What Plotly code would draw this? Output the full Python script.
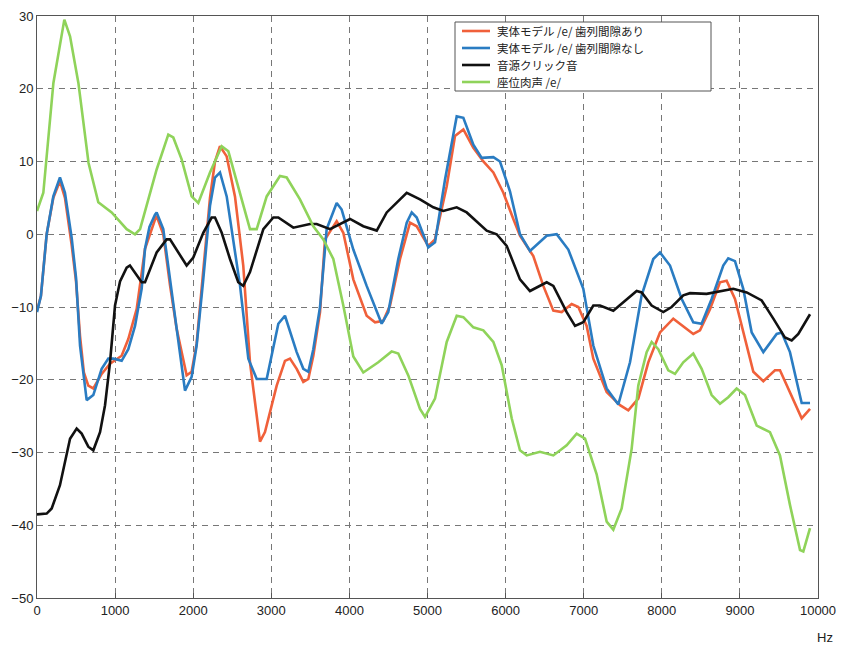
import plotly.graph_objects as go

# ---------------- data ----------------
red_f = [0, 50, 124, 209, 294, 358, 444, 500, 551, 600, 657, 721, 828, 935, 1084, 1169, 1276, 1340, 1383,
         1511, 1532, 1617, 1703, 1788, 1916, 1980, 2044, 2129, 2215, 2279, 2343, 2429, 2535, 2641, 2727,
         2855, 2919, 3069, 3175, 3239, 3325, 3410, 3474, 3538, 3624, 3688, 3837, 3922, 4050, 4221, 4328,
         4434, 4520, 4648, 4776, 4862, 5010, 5096, 5246, 5352, 5459, 5587, 5715, 5843, 5971, 6099, 6184,
         6355, 6483, 6611, 6718, 6846, 6931, 7038, 7123, 7294, 7465, 7571, 7699, 7827, 7977, 8147, 8233,
         8403, 8489, 8617, 8745, 8830, 8937, 9043, 9172, 9300, 9449, 9513, 9641, 9791, 9898]
red_v = [-10.5, -8.5, 0, 5, 7.3, 5, -1.5, -6.5, -14, -19, -20.8, -21.2, -19.2, -17.8, -16.7, -14.4, -10.3, -5, -2,
         2, 2.5, 0, -7, -13, -19.4, -18.9, -15, -5, 5, 10, 12.1, 10.7, 5.2, -4.3, -17.6,
         -28.5, -27.2, -20.8, -17.4, -17.1, -18.5, -20.3, -19.9, -16.7, -10.7, -0.7, 1.8, 0.2, -6.2, -11.2, -12.1,
         -11.9, -9.8, -3.4, 1.6, 1.1, -1.6, -0.7, 6.6, 13.5, 14.4, 11.9, 10, 8.5, 5.7, 2.1, -0.2,
         -3, -7.1, -10.5, -10.7, -9.6, -10, -12.6, -17.1, -21.7, -23.5, -24.2, -22.6, -17.6, -13.5, -11.6, -12.3,
         -13.7, -13.2, -10.3, -6.6, -6.4, -8.9, -13.5, -18.9, -20.2, -18.7, -18.7, -21.7, -25.3, -24]

blue_f = [0, 50, 124, 209, 294, 358, 444, 500, 551, 636, 721, 828, 913, 977, 1084, 1169, 1255, 1340, 1383,
          1440, 1511, 1532, 1617, 1703, 1745, 1788, 1895, 1980, 2044, 2129, 2215, 2279, 2343, 2429, 2535,
          2599, 2706, 2813, 2941, 3090, 3175, 3325, 3410, 3474, 3538, 3624, 3709, 3837, 3901, 4050, 4221,
          4413, 4498, 4626, 4734, 4798, 4862, 5010, 5096, 5224, 5374, 5459, 5587, 5694, 5843, 5928, 6056,
          6184, 6312, 6526, 6654, 6803, 6995, 7123, 7294, 7443, 7593, 7742, 7891, 7977, 8105, 8255, 8403,
          8510, 8638, 8787, 8851, 8937, 9043, 9151, 9300, 9471, 9535, 9641, 9791, 9898]
blue_v = [-10.7, -8.5, 0, 5.2, 7.8, 5.7, -0.5, -6, -15.3, -22.8, -22.1, -18.5, -17.1, -17.1, -17.4, -15.8, -12.6, -7.5, -2,
          1, 2.7, 3, 0.7, -6.2, -9, -13, -21.5, -19.6, -15.3, -6.2, 3.9, 7.8, 8.5, 5.2, -2,
          -7, -17.1, -19.9, -19.9, -12.3, -11.2, -16.2, -18.5, -18.9, -15.8, -10, 0.7, 4.3, 3.4, -2.1, -7.1,
          -12.3, -10.7, -3.4, 1.6, 3, 2.3, -1.8, -1.1, 7.5, 16.2, 16, 12.3, 10.5, 10.6, 10, 5.9,
          0, -2.3, -0.2, 0, -2.1, -7.5, -15.3, -21.2, -23.4, -17.6, -8.4, -3.4, -2.5, -4.3, -8.9, -12.1,
          -12.3, -8.9, -4.3, -3.3, -3.7, -7.5, -13.5, -16.2, -13.7, -13.5, -16.2, -23.2, -23.2]

black_f = [0, 124, 188, 294, 423, 508, 572, 657, 721, 807, 871, 935, 999, 1063, 1148, 1190, 1340, 1383, 1532,
           1660, 1703, 1809, 1916, 2001, 2129, 2236, 2279, 2365, 2471, 2577, 2641, 2727, 2898, 3026, 3090,
           3282, 3495, 3581, 3752, 4008, 4178, 4350, 4478, 4734, 4904, 5074, 5202, 5374, 5502, 5758, 5886,
           6014, 6184, 6312, 6526, 6611, 6782, 6889, 6995, 7123, 7209, 7379, 7550, 7678, 7742, 7870, 8019,
           8126, 8275, 8361, 8574, 8745, 8915, 9087, 9279, 9428, 9577, 9663, 9748, 9898]
black_v = [-38.5, -38.4, -37.7, -34.5, -28.1, -26.7, -27.4, -29.2, -29.7, -27.2, -23.5, -17.6, -9.8, -6.5, -4.6, -4.3, -6.6, -6.6, -2.5,
           -0.7, -0.7, -2.5, -4.3, -3.2, 0.2, 2.3, 2.3, 0.2, -3.4, -6.6, -7.1, -5.2, 0.7, 2.3, 2.3,
           0.9, 1.4, 1.4, 0.7, 2.1, 1.1, 0.5, 3, 5.7, 4.8, 3.7, 3.2, 3.7, 3, 0.5, 0,
           -1.6, -6.2, -7.8, -6.6, -7.1, -10.7, -12.6, -12.1, -9.8, -9.8, -10.5, -8.9, -7.8, -8, -9.8, -10.7,
           -10, -8.4, -8.1, -8.2, -7.8, -7.5, -8, -9.1, -11.6, -14.2, -14.6, -13.7, -11]

green_f = [0, 81, 210, 350, 423, 530, 660, 785, 956, 1148, 1255, 1320, 1532, 1681, 1745, 1852, 1980, 2065,
           2215, 2365, 2450, 2577, 2727, 2813, 2941, 3111, 3197, 3367, 3538, 3666, 3794, 3922, 4050, 4178,
           4370, 4541, 4626, 4754, 4904, 4968, 5096, 5246, 5374, 5459, 5587, 5715, 5843, 5950, 6078, 6184,
           6270, 6440, 6611, 6782, 6910, 7017, 7166, 7294, 7379, 7486, 7614, 7699, 7806, 7870, 7955, 8083,
           8169, 8275, 8403, 8510, 8638, 8745, 8851, 8958, 9065, 9215, 9385, 9513, 9641, 9770, 9812, 9898]
green_v = [3.2, 5.7, 20.8, 29.5, 27.2, 20.8, 9.8, 4.4, 3, 0.7, 0, 0.7, 8.9, 13.7, 13.3, 10.3, 5.2, 4.3,
           8.5, 12.1, 11.4, 6.6, 0.7, 0.7, 5.2, 8, 7.8, 4.8, 1.1, -0.7, -3.4, -9.8, -16.8, -19,
           -17.6, -16.1, -16.4, -19.4, -24, -25.1, -22.6, -14.8, -11.2, -11.4, -12.8, -13.2, -14.8, -18, -25.3, -29.7,
           -30.4, -29.9, -30.4, -29, -27.4, -28.1, -33, -39.5, -40.6, -37.7, -29.5, -20.8, -16.2, -14.8, -15.8, -18.7,
           -19.2, -17.6, -16.4, -18.5, -22.1, -23.3, -22.4, -21.2, -22.1, -26.3, -27.2, -30.4, -37.2, -43.4, -43.6, -40.4]

series_names = ["実体モデル /e/ 歯列間隙あり", "実体モデル /e/ 歯列間隙なし", "音源クリック音", "座位肉声 /e/"]
series_colors = ["#f0603a", "#2a7cc2", "#111111", "#8fd35a"]

x_ticks = [0, 1000, 2000, 3000, 4000, 5000, 6000, 7000, 8000, 9000, 10000]
x_tick_text = ["0", "1000", "2000", "3000", "4000", "5000", "6000", "7000", "8000", "9000", "10000"]
y_ticks = [-50, -40, -30, -20, -10, 0, 10, 20, 30]
y_tick_text = ["−50", "−40", "−30", "−20", "−10", "0", "10", "20", "30"]

# ---------------- layout geometry ----------------
W, H = 841, 646
ML, MR, MT, MB = 37, 23, 16, 48
PW, PH = W - ML - MR, H - MT - MB


def px_x(p):
    return (p - ML) / PW


def px_y(p):
    return (H - MB - p) / PH


# ---------------- figure ----------------
fig = go.Figure()
for f, v, name, col in zip([red_f, blue_f, black_f, green_f],
                           [red_v, blue_v, black_v, green_v],
                           series_names, series_colors):
    fig.add_trace(go.Scatter(x=f, y=v, mode="lines", name=name,
                             line=dict(color=col, width=2.6)))

# boxed key like the reference's
LEG_FONT = 11.5
ROW0, ROWSTEP = 31, 17
shapes = [dict(type="rect", xref="paper", yref="paper",
               x0=px_x(455), x1=px_x(711), y0=px_y(22), y1=px_y(91),
               fillcolor="white", line=dict(color="#555", width=1), layer="above")]
annotations = []
for i, (name, col) in enumerate(zip(series_names, series_colors)):
    yy = px_y(ROW0 + ROWSTEP * i)
    shapes.append(dict(type="line", xref="paper", yref="paper",
                       x0=px_x(462), x1=px_x(490), y0=yy, y1=yy,
                       line=dict(color=col, width=2.6), layer="above"))
    annotations.append(dict(text=name, xref="paper", yref="paper",
                            x=px_x(496), y=yy, xanchor="left", yanchor="middle",
                            showarrow=False, borderpad=0,
                            font=dict(family="Noto Sans CJK JP", size=LEG_FONT, color="#222")))

tick_font = dict(family="Liberation Sans Narrow, Liberation Sans, Arial", size=13, color="#222")
annotations.append(dict(text="Hz", xref="paper", yref="paper", x=px_x(825), y=px_y(637),
                        showarrow=False, xanchor="center", yanchor="middle", font=tick_font))

fig.update_layout(
    width=W, height=H,
    margin=dict(l=ML, r=MR, t=MT, b=MB),
    paper_bgcolor="white", plot_bgcolor="white",
    font=dict(family="Noto Sans CJK JP", size=13, color="#222"),
    showlegend=False,
    xaxis=dict(range=[0, 10000], tickvals=x_ticks, ticktext=x_tick_text, tickfont=tick_font,
               automargin=False,
               showgrid=True, gridcolor="#777", griddash="6px,5px", gridwidth=1,
               showline=True, linecolor="#555", linewidth=1, mirror=True,
               ticks="inside", ticklen=5, tickcolor="#555", zeroline=False),
    yaxis=dict(range=[-50, 30], tickvals=y_ticks, ticktext=y_tick_text, tickfont=tick_font,
               automargin=False,
               showgrid=True, gridcolor="#777", griddash="6px,5px", gridwidth=1,
               showline=True, linecolor="#555", linewidth=1, mirror=True,
               ticks="", zeroline=False),
    shapes=shapes,
    annotations=annotations,
)

fig.write_html("out.html", config={"displayModeBar": False},
               post_script="document.body.style.margin='0';document.body.style.padding='0';")
